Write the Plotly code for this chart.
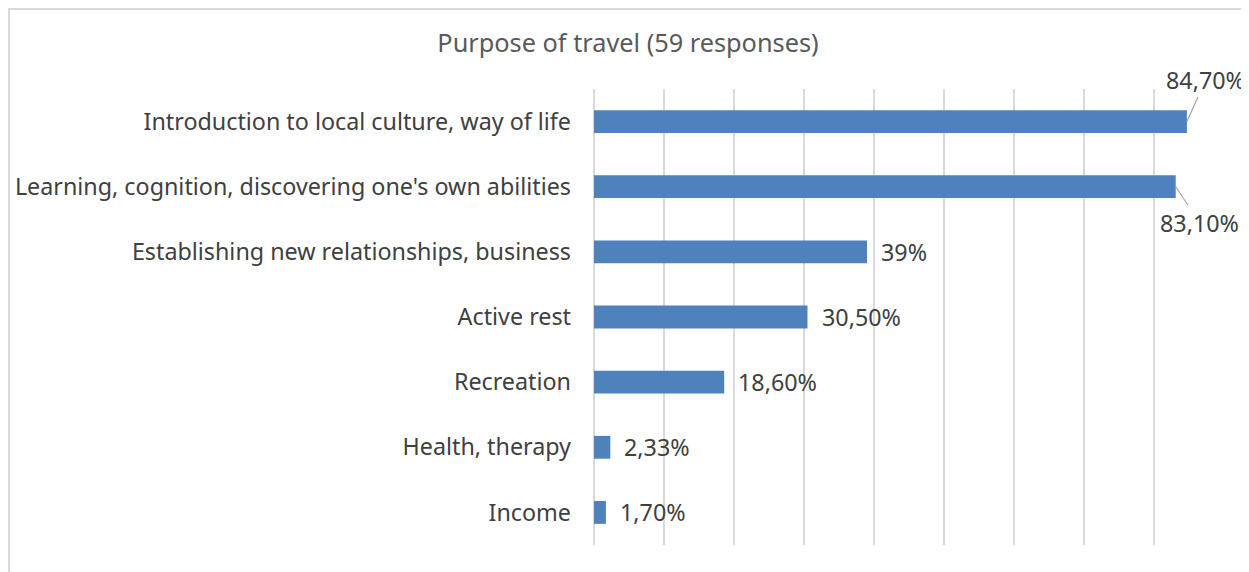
import plotly.graph_objects as go

categories = [
    "Introduction to local culture, way of life",
    "Learning, cognition, discovering one's own abilities",
    "Establishing new relationships, business",
    "Active rest",
    "Recreation",
    "Health, therapy",
    "Income",
]
values = [0.847, 0.831, 0.39, 0.305, 0.186, 0.0233, 0.017]
labels = ["84,70%", "83,10%", "39%", "30,50%", "18,60%", "2,33%", "1,70%"]

FONT = "Noto Sans"
TXT = "#404040"
FS = 23.3

fig = go.Figure()
fig.add_trace(go.Bar(
    y=categories, x=values, orientation="h",
    marker=dict(color="#4F81BD", line=dict(width=0)),
    width=0.35, hoverinfo="skip",
))

annotations = []
for i, (c, v, t) in enumerate(zip(categories, values, labels)):
    if i == 0:
        annotations.append(dict(x=v, y=c, text=t, showarrow=True, arrowhead=0,
                                arrowcolor="#a6a6a6", arrowwidth=1.2, ax=19, ay=-42,
                                font=dict(family=FONT, size=FS, color=TXT)))
    elif i == 1:
        annotations.append(dict(x=v, y=c, text=t, showarrow=True, arrowhead=0,
                                arrowcolor="#a6a6a6", arrowwidth=1.2, ax=24, ay=36,
                                font=dict(family=FONT, size=FS, color=TXT)))
    else:
        annotations.append(dict(x=v, y=c, text=t, showarrow=False, xanchor="left",
                                xshift=12, font=dict(family=FONT, size=FS, color=TXT)))

W, H = 1249, 572
L, T, PW, PH = 586, 81, 630, 456
fig.update_layout(
    width=W, height=H,
    margin=dict(l=L, r=W - L - PW, t=T, b=H - T - PH, autoexpand=False),
    paper_bgcolor="white", plot_bgcolor="white",
    showlegend=False,
    title=dict(text="Purpose of travel (59 responses)", x=620 / W, xanchor="center",
               y=1 - 35 / H, yanchor="middle",
               font=dict(family=FONT, size=25.3, color="#595959")),
    xaxis=dict(range=[0, 0.9], dtick=0.1, showticklabels=False, showgrid=True,
               gridcolor="#d9d9d9", gridwidth=1.5, zeroline=True, zerolinecolor="#d9d9d9",
               zerolinewidth=1.5, fixedrange=True, automargin=False),
    yaxis=dict(autorange="reversed", showgrid=False, ticks="", ticklabelstandoff=22,
               tickfont=dict(family=FONT, size=FS, color=TXT), fixedrange=True,
               automargin=False),
    annotations=annotations,
    shapes=[dict(type="rect", xref="paper", yref="paper",
                 x0=(1 - L) / PW, x1=2, y0=-1, y1=(PH + T - 1) / PH,
                 line=dict(color="#d9d9d9", width=2), fillcolor="rgba(0,0,0,0)", layer="below")],
)

fig.write_html("out.html")
